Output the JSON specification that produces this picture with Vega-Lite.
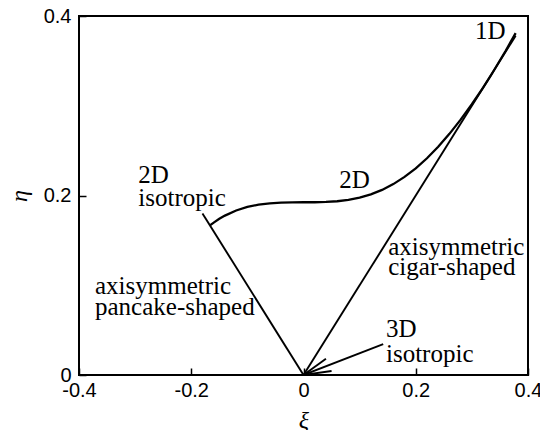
{
  "$schema": "https://vega.github.io/schema/vega-lite/v6.json",
  "autosize": "none",
  "width": 449,
  "height": 359,
  "padding": {"left": 79, "top": 16, "right": 12, "bottom": 55},
  "background": "white",
  "config": {
    "view": {"stroke": "black", "strokeWidth": 2},
    "axis": {
      "grid": false,
      "domain": false,
      "tickColor": "black",
      "tickWidth": 1.5,
      "tickSize": -7,
      "labelFlush": false,
      "labelFont": "Liberation Sans, Arial, sans-serif",
      "labelFontSize": 20,
      "labelColor": "black",
      "titleFont": "Times New Roman, Liberation Serif, serif",
      "titleFontStyle": "italic",
      "titleFontWeight": "normal",
      "titleFontSize": 24,
      "titleColor": "black"
    }
  },
  "datasets": {
    "twoComponent": [
      {"xi": -0.1667, "eta": 0.1667}, {"xi": -0.16, "eta": 0.1698}, {"xi": -0.15, "eta": 0.174},
      {"xi": -0.14, "eta": 0.1776}, {"xi": -0.12, "eta": 0.1833}, {"xi": -0.1, "eta": 0.1872},
      {"xi": -0.08, "eta": 0.1898}, {"xi": -0.06, "eta": 0.1913}, {"xi": -0.04, "eta": 0.1921},
      {"xi": -0.02, "eta": 0.1924}, {"xi": 0, "eta": 0.1925}, {"xi": 0.02, "eta": 0.1925},
      {"xi": 0.04, "eta": 0.1928}, {"xi": 0.06, "eta": 0.1936}, {"xi": 0.08, "eta": 0.1951},
      {"xi": 0.1, "eta": 0.1976}, {"xi": 0.12, "eta": 0.2012}, {"xi": 0.14, "eta": 0.2062},
      {"xi": 0.16, "eta": 0.2127}, {"xi": 0.18, "eta": 0.2207}, {"xi": 0.2, "eta": 0.2303},
      {"xi": 0.22, "eta": 0.2415}, {"xi": 0.24, "eta": 0.2543}, {"xi": 0.26, "eta": 0.2687},
      {"xi": 0.28, "eta": 0.2845}, {"xi": 0.3, "eta": 0.3017}, {"xi": 0.32, "eta": 0.3203},
      {"xi": 0.3333, "eta": 0.3333}, {"xi": 0.34, "eta": 0.3401}, {"xi": 0.36, "eta": 0.361},
      {"xi": 0.378, "eta": 0.3809}
    ],
    "segments": [
      {"seg": "pancake", "ord": 0, "xi": 0, "eta": 0},
      {"seg": "pancake", "ord": 1, "xi": -0.18, "eta": 0.18},
      {"seg": "cigar", "ord": 0, "xi": 0, "eta": 0},
      {"seg": "cigar", "ord": 1, "xi": 0.378, "eta": 0.378},
      {"seg": "arrow", "ord": 0, "xi": 0, "eta": 0},
      {"seg": "arrow", "ord": 1, "xi": 0.142, "eta": 0.0345},
      {"seg": "barbLow", "ord": 0, "xi": 0, "eta": 0},
      {"seg": "barbLow", "ord": 1, "xi": 0.05, "eta": 0.0045},
      {"seg": "barbHigh", "ord": 0, "xi": 0, "eta": 0},
      {"seg": "barbHigh", "ord": 1, "xi": 0.04, "eta": 0.018}
    ],
    "labels": [
      {"text": "1D", "xi": 0.3056, "eta": 0.374},
      {"text": "2D", "xi": 0.0638, "eta": 0.208},
      {"text": "2D", "xi": -0.2943, "eta": 0.2136},
      {"text": "isotropic", "xi": -0.2943, "eta": 0.1885},
      {"text": "axisymmetric", "xi": 0.151, "eta": 0.1337},
      {"text": "cigar-shaped", "xi": 0.151, "eta": 0.1114},
      {"text": "axisymmetric", "xi": -0.3715, "eta": 0.0903},
      {"text": "pancake-shaped", "xi": -0.3715, "eta": 0.0669},
      {"text": "3D", "xi": 0.147, "eta": 0.0427},
      {"text": "isotropic", "xi": 0.147, "eta": 0.0148}
    ]
  },
  "encoding": {
    "x": {
      "field": "xi", "type": "quantitative", "title": "ξ",
      "scale": {"domain": [-0.4, 0.4], "nice": false, "zero": false},
      "axis": {
        "values": [-0.4, -0.2, 0, 0.2, 0.4],
        "labelPadding": 12,
        "titlePadding": 8,
        "labelExpr": "datum.value == 0 ? '0' : (datum.value < 0 ? '-' + format(-datum.value, '.1f') : format(datum.value, '.1f'))"
      }
    },
    "y": {
      "field": "eta", "type": "quantitative", "title": "η",
      "scale": {"domain": [0, 0.4], "nice": false, "zero": false},
      "axis": {
        "values": [0, 0.2, 0.4],
        "labelPadding": 15,
        "titlePadding": 12,
        "labelExpr": "datum.value == 0 ? '0' : format(datum.value, '.1f')"
      }
    }
  },
  "layer": [
    {
      "data": {"name": "twoComponent"},
      "mark": {"type": "line", "color": "black", "strokeWidth": 2.3, "clip": true}
    },
    {
      "data": {"name": "segments"},
      "mark": {"type": "line", "color": "black", "strokeWidth": 1.9, "clip": true},
      "encoding": {
        "detail": {"field": "seg"},
        "order": {"field": "ord", "type": "quantitative"}
      }
    },
    {
      "data": {"name": "labels"},
      "mark": {"type": "text", "font": "Times New Roman, Liberation Serif, serif", "fontSize": 25, "align": "left", "baseline": "alphabetic", "color": "black"},
      "encoding": {"text": {"field": "text"}}
    }
  ]
}
